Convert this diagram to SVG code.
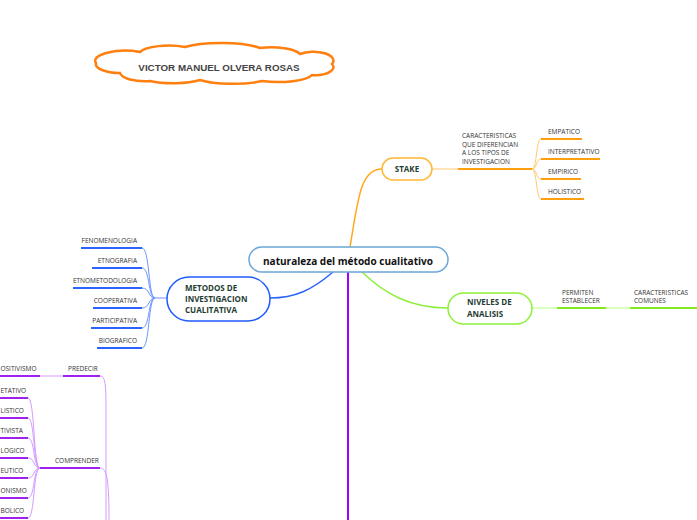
<svg xmlns="http://www.w3.org/2000/svg" width="697" height="520" viewBox="0 0 697 520">
<style>
.lbl{font-family:"Open Sans","Liberation Sans",sans-serif;font-size:6.5px;fill:#333}
.nt{font-family:"Open Sans","Liberation Sans",sans-serif;font-size:8px;font-weight:bold;fill:#1f3d33}
.thin{fill:none;stroke-width:1}
.thick{fill:none;stroke-width:2}
.o1{stroke:#ffc870}.o2{stroke:#ff9f10}
.b1{stroke:#6b95ff}.b2{stroke:#2a63ff}
.g1{stroke:#b8ff7a}.g2{stroke:#80e81c}
.p1{stroke:#d49bff}.p2{stroke:#a020f0}
</style>
<rect width="697" height="520" fill="#fff"/>
<g id="connectors">
<path class="thick o2" d="M350 247 C358 200 360 169 382 169" style="stroke:#ffa820;stroke-width:1.5"/>
<path class="thick b2" d="M333 272 C312 290 295 298 270 298" style="stroke-width:1.5"/>
<path class="thick g2" d="M362 272 C385 294 410 308 448 308" style="stroke:#8cf03a;stroke-width:1.5"/>
<path class="thick p2" d="M348 272 L348 520" style="stroke:#a000ff"/>
<path class="thin o1" d="M432 169 L458 169"/>
<path class="thick o2" d="M458 169 L532 169"/>
<path class="thin o1" d="M532 169 C537 169 536 139 541 139"/>
<path class="thin o1" d="M532 169 C537 169 536 159 541 159"/>
<path class="thin o1" d="M532 169 C537 169 536 179 541 179"/>
<path class="thin o1" d="M532 169 C537 169 536 199 541 199"/>
<path class="thick o2" d="M541 139 L582 139"/>
<path class="thick o2" d="M541 159 L600 159"/>
<path class="thick o2" d="M541 179 L581 179"/>
<path class="thick o2" d="M541 199 L584 199"/>
<path class="thin b1" d="M167 298 L155 298"/>
<path class="thin b1" d="M155 298 C148 298 150 248 142 248"/>
<path class="thin b1" d="M155 298 C148 298 150 268 142 268"/>
<path class="thin b1" d="M155 298 C148 298 150 288 142 288"/>
<path class="thin b1" d="M155 298 C148 298 150 308 142 308"/>
<path class="thin b1" d="M155 298 C148 298 150 328 142 328"/>
<path class="thin b1" d="M155 298 C148 298 150 348 142 348"/>
<path class="thick b2" d="M81 248 L142 248"/>
<path class="thick b2" d="M92 268 L142 268"/>
<path class="thick b2" d="M73 288 L142 288"/>
<path class="thick b2" d="M93 308 L142 308"/>
<path class="thick b2" d="M91 328 L142 328"/>
<path class="thick b2" d="M97 348 L142 348"/>
<path class="thin g1" d="M532 308 L557 308"/>
<path class="thick g2" d="M557 308 L606 308"/>
<path class="thin g1" d="M606 308 L630 308"/>
<path class="thick g2" d="M630 308 L697 308"/>
<path class="thin p1" d="M100 376 C106 376 106 386 106 420 L106 520"/>
<path class="thin p1" d="M100 468 C107 468 109 480 109 520"/>
<path class="thick p2" d="M63 376 L100 376"/>
<path class="thin p1" d="M40 376 L63 376"/>
<path class="thick p2" d="M0 376 L40 376"/>
<path class="thick p2" d="M40 468 L100 468"/>
<path class="thin p1" d="M40 468 C33 468 35 398 28 398"/>
<path class="thin p1" d="M40 468 C33 468 35 418 28 418"/>
<path class="thin p1" d="M40 468 C33 468 35 438 28 438"/>
<path class="thin p1" d="M40 468 C33 468 35 458 28 458"/>
<path class="thin p1" d="M40 468 C33 468 35 478 28 478"/>
<path class="thin p1" d="M40 468 C33 468 35 498 28 498"/>
<path class="thin p1" d="M40 468 C33 468 35 518 28 518"/>
<path class="thick p2" d="M0 398 L28 398"/>
<path class="thick p2" d="M0 418 L28 418"/>
<path class="thick p2" d="M0 438 L28 438"/>
<path class="thick p2" d="M0 458 L28 458"/>
<path class="thick p2" d="M0 478 L28 478"/>
<path class="thick p2" d="M0 498 L28 498"/>
<path class="thick p2" d="M0 518 L28 518"/>
</g>
<g id="author">
<path d="M96 63 A30 10 0 0 1 140 52 A30 9 0 0 1 185 47 A45 10 0 0 1 260 48 A30 9 0 0 1 300 54 A20 9 0 0 1 332 64 A18 8 0 0 1 312 75 A35 9 0 0 1 262 81 A40 9 0 0 1 200 80 A35 9 0 0 1 150 81 A25 9 0 0 1 120 73 A24 9 0 0 1 96 63 Z" fill="#fff" stroke="#ff7f0f" stroke-width="2.5"/>
<text x="219" y="70.5" text-anchor="middle" font-family="'Liberation Sans',Arial,sans-serif" font-size="9.8" font-weight="bold" fill="#444">VICTOR MANUEL OLVERA ROSAS</text>
</g>
<g id="center">
<rect x="249" y="247" width="199" height="25" rx="12.5" fill="#fff" stroke="#6aa6d8" stroke-width="1.5"/>
<text x="348" y="265" text-anchor="middle" font-family="'Open Sans','Liberation Sans',sans-serif" font-size="10.5" font-weight="bold" fill="#111" textLength="170" lengthAdjust="spacingAndGlyphs">naturaleza del método cualitativo</text>
</g>
<g id="stake">
<rect x="382" y="158" width="50" height="22" rx="11" fill="#fff" stroke="#ffb733" stroke-width="1.5"/>
<text class="nt" x="407" y="172" text-anchor="middle">STAKE</text>
</g>
<g id="stake-label">
<text class="lbl" x="462" y="138">CARACTERISTICAS</text>
<text class="lbl" x="462" y="146.5">QUE DIFERENCIAN</text>
<text class="lbl" x="462" y="155">A LOS TIPOS DE</text>
<text class="lbl" x="462" y="163.5">INVESTIGACION</text>
</g>
<g id="empatico"><text class="lbl" x="548" y="134">EMPATICO</text></g>
<g id="interpretativo"><text class="lbl" x="548" y="154">INTERPRETATIVO</text></g>
<g id="empirico"><text class="lbl" x="548" y="174">EMPIRICO</text></g>
<g id="holistico"><text class="lbl" x="548" y="194">HOLISTICO</text></g>
<g id="metodos">
<rect x="167" y="277" width="103" height="44" rx="22" fill="#fff" stroke="#1f5cff" stroke-width="1.5"/>
<text class="nt" x="185" y="291">METODOS DE</text>
<text class="nt" x="185" y="302">INVESTIGACION</text>
<text class="nt" x="185" y="313">CUALITATIVA</text>
</g>
<g id="fenomenologia"><text class="lbl" x="137" y="243" text-anchor="end">FENOMENOLOGIA</text></g>
<g id="etnografia"><text class="lbl" x="137" y="263" text-anchor="end">ETNOGRAFIA</text></g>
<g id="etnometodologia"><text class="lbl" x="137" y="283" text-anchor="end">ETNOMETODOLOGIA</text></g>
<g id="cooperativa"><text class="lbl" x="137" y="303" text-anchor="end">COOPERATIVA</text></g>
<g id="participativa"><text class="lbl" x="137" y="323" text-anchor="end">PARTICIPATIVA</text></g>
<g id="biografico"><text class="lbl" x="137" y="343" text-anchor="end">BIOGRAFICO</text></g>
<g id="niveles">
<rect x="448" y="293" width="84" height="31" rx="15.5" fill="#fff" stroke="#8cf03a" stroke-width="1.5"/>
<text class="nt" x="467" y="305">NIVELES DE</text>
<text class="nt" x="467" y="317">ANALISIS</text>
</g>
<g id="permiten">
<text class="lbl" x="562" y="295">PERMITEN</text>
<text class="lbl" x="562" y="303">ESTABLECER</text>
</g>
<g id="caracteristicas-comunes">
<text class="lbl" x="634" y="295">CARACTERISTICAS</text>
<text class="lbl" x="634" y="303">COMUNES</text>
</g>
<g id="predecir"><text class="lbl" x="68" y="371">PREDECIR</text></g>
<g id="positivismo"><text class="lbl" x="0.5" y="371">OSITIVISMO</text></g>
<g id="comprender"><text class="lbl" x="55" y="463">COMPRENDER</text></g>
<g id="c1"><text class="lbl" x="0.5" y="393">ETATIVO</text></g>
<g id="c2"><text class="lbl" x="0.5" y="413">LISTICO</text></g>
<g id="c3"><text class="lbl" x="0.5" y="433">TIVISTA</text></g>
<g id="c4"><text class="lbl" x="0.5" y="453">LOGICO</text></g>
<g id="c5"><text class="lbl" x="0.5" y="473">EUTICO</text></g>
<g id="c6"><text class="lbl" x="0.5" y="493">ONISMO</text></g>
<g id="c7"><text class="lbl" x="0.5" y="513">BOLICO</text></g>
</svg>
